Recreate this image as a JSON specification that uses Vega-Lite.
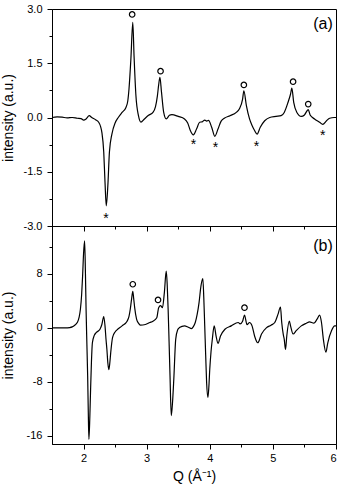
{
  "$schema": "https://vega.github.io/schema/vega-lite/v6.json",
  "padding": {"left": 0, "top": 2, "right": 4, "bottom": 0},
  "bounds": "flush",
  "spacing": 0,
  "config": {
    "font": "Liberation Sans",
    "view": {"stroke": "black", "strokeWidth": 1},
    "axis": {
      "grid": false, "domainColor": "black", "tickColor": "black", "labelColor": "black",
      "titleColor": "black", "labelFontSize": 11, "titleFontSize": 14, "titleFontWeight": "normal",
      "labelPadding": 5
    }
  },
  "datasets": {
    "a": [
      {"q":1.5,"i":0.0},{"q":1.58,"i":0.02},{"q":1.66,"i":0.01},{"q":1.74,"i":-0.01},{"q":1.82,"i":0.0},{"q":1.9,"i":-0.02},{"q":1.96,"i":-0.03},{"q":2.0,"i":-0.07},{"q":2.04,"i":-0.04},{"q":2.09,"i":0.05},{"q":2.13,"i":0.0},{"q":2.19,"i":-0.06},{"q":2.24,"i":-0.13},{"q":2.27,"i":-0.25},{"q":2.29,"i":-0.41},{"q":2.32,"i":-0.96},{"q":2.34,"i":-1.79},{"q":2.36,"i":-2.44},{"q":2.385,"i":-1.88},{"q":2.41,"i":-0.95},{"q":2.45,"i":-0.45},{"q":2.5,"i":-0.15},{"q":2.55,"i":0.0},{"q":2.61,"i":0.14},{"q":2.67,"i":0.27},{"q":2.7,"i":0.45},{"q":2.72,"i":0.79},{"q":2.75,"i":1.62},{"q":2.78,"i":2.63},{"q":2.8,"i":1.71},{"q":2.83,"i":0.6},{"q":2.87,"i":0.05},{"q":2.91,"i":-0.13},{"q":2.96,"i":-0.05},{"q":3.03,"i":0.06},{"q":3.1,"i":0.14},{"q":3.14,"i":0.3},{"q":3.17,"i":0.6},{"q":3.19,"i":0.9},{"q":3.21,"i":1.11},{"q":3.235,"i":0.7},{"q":3.27,"i":0.14},{"q":3.31,"i":-0.04},{"q":3.36,"i":0.06},{"q":3.4,"i":0.08},{"q":3.5,"i":0.03},{"q":3.6,"i":-0.04},{"q":3.65,"i":-0.15},{"q":3.69,"i":-0.35},{"q":3.74,"i":-0.48},{"q":3.79,"i":-0.32},{"q":3.84,"i":-0.13},{"q":3.88,"i":-0.12},{"q":3.92,"i":-0.07},{"q":3.95,"i":-0.1},{"q":3.98,"i":-0.08},{"q":4.03,"i":-0.27},{"q":4.08,"i":-0.52},{"q":4.13,"i":-0.32},{"q":4.18,"i":-0.1},{"q":4.23,"i":-0.02},{"q":4.32,"i":0.05},{"q":4.42,"i":0.14},{"q":4.47,"i":0.24},{"q":4.52,"i":0.51},{"q":4.54,"i":0.74},{"q":4.58,"i":0.33},{"q":4.63,"i":-0.04},{"q":4.67,"i":-0.22},{"q":4.71,"i":-0.36},{"q":4.75,"i":-0.46},{"q":4.8,"i":-0.27},{"q":4.87,"i":-0.09},{"q":4.95,"i":0.0},{"q":5.05,"i":0.03},{"q":5.13,"i":0.05},{"q":5.18,"i":0.14},{"q":5.24,"i":0.42},{"q":5.28,"i":0.65},{"q":5.3,"i":0.81},{"q":5.33,"i":0.42},{"q":5.38,"i":0.14},{"q":5.45,"i":0.03},{"q":5.5,"i":0.07},{"q":5.56,"i":0.22},{"q":5.59,"i":0.07},{"q":5.66,"i":-0.04},{"q":5.74,"i":-0.13},{"q":5.79,"i":-0.19},{"q":5.85,"i":-0.09},{"q":5.9,"i":-0.02},{"q":5.97,"i":0.0},{"q":6.0,"i":0.0}
    ],
    "b": [
      {"q":1.5,"i":0.0},{"q":1.6,"i":0.0},{"q":1.71,"i":0.0},{"q":1.78,"i":0.05},{"q":1.82,"i":0.15},{"q":1.86,"i":0.4},{"q":1.9,"i":0.79},{"q":1.93,"i":1.6},{"q":1.95,"i":2.76},{"q":1.97,"i":5.0},{"q":1.985,"i":7.7},{"q":2.0,"i":11.0},{"q":2.017,"i":12.9},{"q":2.03,"i":8.0},{"q":2.04,"i":2.76},{"q":2.053,"i":-2.5},{"q":2.065,"i":-7.1},{"q":2.075,"i":-12.5},{"q":2.085,"i":-16.5},{"q":2.1,"i":-13.0},{"q":2.11,"i":-9.6},{"q":2.125,"i":-5.0},{"q":2.14,"i":-2.2},{"q":2.17,"i":-1.1},{"q":2.2,"i":-0.7},{"q":2.26,"i":-0.2},{"q":2.29,"i":0.5},{"q":2.32,"i":1.68},{"q":2.34,"i":0.3},{"q":2.355,"i":-1.6},{"q":2.37,"i":-3.2},{"q":2.385,"i":-5.2},{"q":2.4,"i":-6.2},{"q":2.415,"i":-5.3},{"q":2.43,"i":-3.7},{"q":2.46,"i":-1.4},{"q":2.5,"i":-0.6},{"q":2.53,"i":-0.3},{"q":2.61,"i":0.3},{"q":2.69,"i":1.0},{"q":2.72,"i":1.7},{"q":2.74,"i":2.76},{"q":2.76,"i":4.2},{"q":2.78,"i":5.4},{"q":2.795,"i":4.3},{"q":2.81,"i":3.0},{"q":2.84,"i":1.3},{"q":2.87,"i":0.7},{"q":2.9,"i":0.4},{"q":2.98,"i":0.5},{"q":3.05,"i":0.8},{"q":3.1,"i":1.0},{"q":3.16,"i":1.5},{"q":3.19,"i":3.0},{"q":3.22,"i":3.3},{"q":3.25,"i":3.0},{"q":3.28,"i":5.2},{"q":3.31,"i":8.4},{"q":3.325,"i":6.5},{"q":3.34,"i":2.8},{"q":3.355,"i":-2.0},{"q":3.37,"i":-7.1},{"q":3.39,"i":-13.0},{"q":3.41,"i":-11.0},{"q":3.43,"i":-7.6},{"q":3.46,"i":-1.7},{"q":3.49,"i":-0.3},{"q":3.52,"i":0.05},{"q":3.6,"i":0.3},{"q":3.66,"i":0.1},{"q":3.71,"i":-0.1},{"q":3.74,"i":0.2},{"q":3.77,"i":0.8},{"q":3.8,"i":2.0},{"q":3.83,"i":3.75},{"q":3.86,"i":6.2},{"q":3.89,"i":7.3},{"q":3.905,"i":4.5},{"q":3.92,"i":0.3},{"q":3.935,"i":-4.0},{"q":3.95,"i":-8.1},{"q":3.97,"i":-10.3},{"q":3.985,"i":-8.8},{"q":4.0,"i":-6.1},{"q":4.02,"i":-3.5},{"q":4.04,"i":-1.7},{"q":4.07,"i":0.3},{"q":4.1,"i":-1.2},{"q":4.13,"i":-2.3},{"q":4.17,"i":-1.2},{"q":4.24,"i":-0.2},{"q":4.34,"i":0.3},{"q":4.45,"i":0.8},{"q":4.48,"i":0.6},{"q":4.52,"i":1.0},{"q":4.55,"i":1.9},{"q":4.59,"i":0.5},{"q":4.63,"i":0.8},{"q":4.67,"i":0.3},{"q":4.71,"i":-1.2},{"q":4.76,"i":-2.2},{"q":4.82,"i":-0.9},{"q":4.9,"i":0.05},{"q":4.97,"i":0.4},{"q":5.03,"i":0.8},{"q":5.08,"i":2.0},{"q":5.12,"i":3.1},{"q":5.14,"i":0.8},{"q":5.165,"i":-1.0},{"q":5.18,"i":-1.7},{"q":5.2,"i":-3.2},{"q":5.22,"i":-1.2},{"q":5.26,"i":1.0},{"q":5.28,"i":0.3},{"q":5.32,"i":-0.9},{"q":5.37,"i":-0.4},{"q":5.45,"i":0.3},{"q":5.53,"i":0.7},{"q":5.58,"i":0.9},{"q":5.65,"i":0.7},{"q":5.7,"i":1.3},{"q":5.74,"i":1.9},{"q":5.77,"i":0.8},{"q":5.8,"i":-1.7},{"q":5.84,"i":-3.6},{"q":5.87,"i":-2.2},{"q":5.93,"i":-0.4},{"q":5.98,"i":0.3},{"q":6.0,"i":0.3}
    ],
    "ma": [
      {"q":2.77,"i":2.85,"m":"o"},{"q":3.22,"i":1.28,"m":"o"},{"q":4.54,"i":0.9,"m":"o"},{"q":5.32,"i":0.99,"m":"o"},{"q":5.56,"i":0.37,"m":"o"},
      {"q":2.355,"i":-2.72,"m":"*"},{"q":3.74,"i":-0.69,"m":"*"},{"q":4.09,"i":-0.76,"m":"*"},{"q":4.74,"i":-0.73,"m":"*"},{"q":5.79,"i":-0.43,"m":"*"}
    ],
    "mb": [
      {"q":2.78,"i":6.47,"m":"o"},{"q":3.18,"i":4.15,"m":"o"},{"q":4.55,"i":3.0,"m":"o"}
    ],
    "la": [{"q":5.95,"i":2.59,"t":"(a)"}],
    "lb": [{"q":5.95,"i":12.1,"t":"(b)"}]
  },
  "vconcat": [
    {
      "width": 284, "height": 217,
      "encoding": {
        "x": {"field": "q", "type": "quantitative", "scale": {"domain": [1.5, 6], "nice": false, "zero": false},
              "axis": {"title": null, "labels": false, "values": [2,2.5,3,3.5,4,4.5,5,5.5,6],
                       "tickSize": {"condition": {"test": "datum.value % 1 === 0", "value": 5}, "value": 3}}},
        "y": {"field": "i", "type": "quantitative", "scale": {"domain": [-3, 3], "nice": false, "zero": false},
              "axis": {"title": "intensity (a.u.)", "values": [-3,-2.25,-1.5,-0.75,0,0.75,1.5,2.25,3], "format": ".1f",
                       "tickSize": {"condition": {"test": "abs(datum.value % 1.5) < 1e-9", "value": 5}, "value": 3},
                       "labelExpr": "abs(datum.value % 1.5) < 1e-9 ? replace(datum.label, '−', '-') : ''",
                       "minExtent": 30, "maxExtent": 30, "titlePadding": 7}}
      },
      "layer": [
        {"data": {"name": "a"}, "mark": {"type": "line", "color": "black", "strokeWidth": 1.2, "interpolate": "monotone"}},
        {"data": {"name": "ma"}, "transform": [{"filter": "datum.m === 'o'"}],
         "mark": {"type": "point", "shape": "circle", "filled": false, "color": "black", "size": 30, "strokeWidth": 1.2, "opacity": 1}},
        {"data": {"name": "ma"}, "transform": [{"filter": "datum.m === '*'"}],
         "mark": {"type": "text", "fontSize": 14, "color": "black", "baseline": "middle", "dy": 3}, "encoding": {"text": {"field": "m"}}},
        {"data": {"name": "la"}, "mark": {"type": "text", "fontSize": 16, "color": "black", "align": "right", "baseline": "middle"}, "encoding": {"text": {"field": "t"}}}
      ]
    },
    {
      "width": 284, "height": 218,
      "encoding": {
        "x": {"field": "q", "type": "quantitative", "scale": {"domain": [1.5, 6], "nice": false, "zero": false},
              "axis": {"title": "Q (Å⁻¹)", "values": [2,2.5,3,3.5,4,4.5,5,5.5,6], "labelPadding": 3, "titlePadding": 6,
                       "tickSize": {"condition": {"test": "datum.value % 1 === 0", "value": 5}, "value": 3},
                       "labelExpr": "datum.value % 1 === 0 ? format(datum.value, 'd') : ''"}},
        "y": {"field": "i", "type": "quantitative", "scale": {"domain": [-17.2, 15.1], "nice": false, "zero": false},
              "axis": {"title": "intensity (a.u.)", "values": [-16,-12,-8,-4,0,4,8,12],
                       "tickSize": {"condition": {"test": "datum.value % 8 === 0", "value": 5}, "value": 3},
                       "labelExpr": "datum.value % 8 === 0 ? replace(datum.label, '−', '-') : ''",
                       "minExtent": 30, "maxExtent": 30, "titlePadding": 7}}
      },
      "layer": [
        {"data": {"name": "b"}, "mark": {"type": "line", "color": "black", "strokeWidth": 1.2, "interpolate": "monotone"}},
        {"data": {"name": "mb"},
         "mark": {"type": "point", "shape": "circle", "filled": false, "color": "black", "size": 30, "strokeWidth": 1.2, "opacity": 1}},
        {"data": {"name": "lb"}, "mark": {"type": "text", "fontSize": 16, "color": "black", "align": "right", "baseline": "middle"}, "encoding": {"text": {"field": "t"}}}
      ]
    }
  ]
}
